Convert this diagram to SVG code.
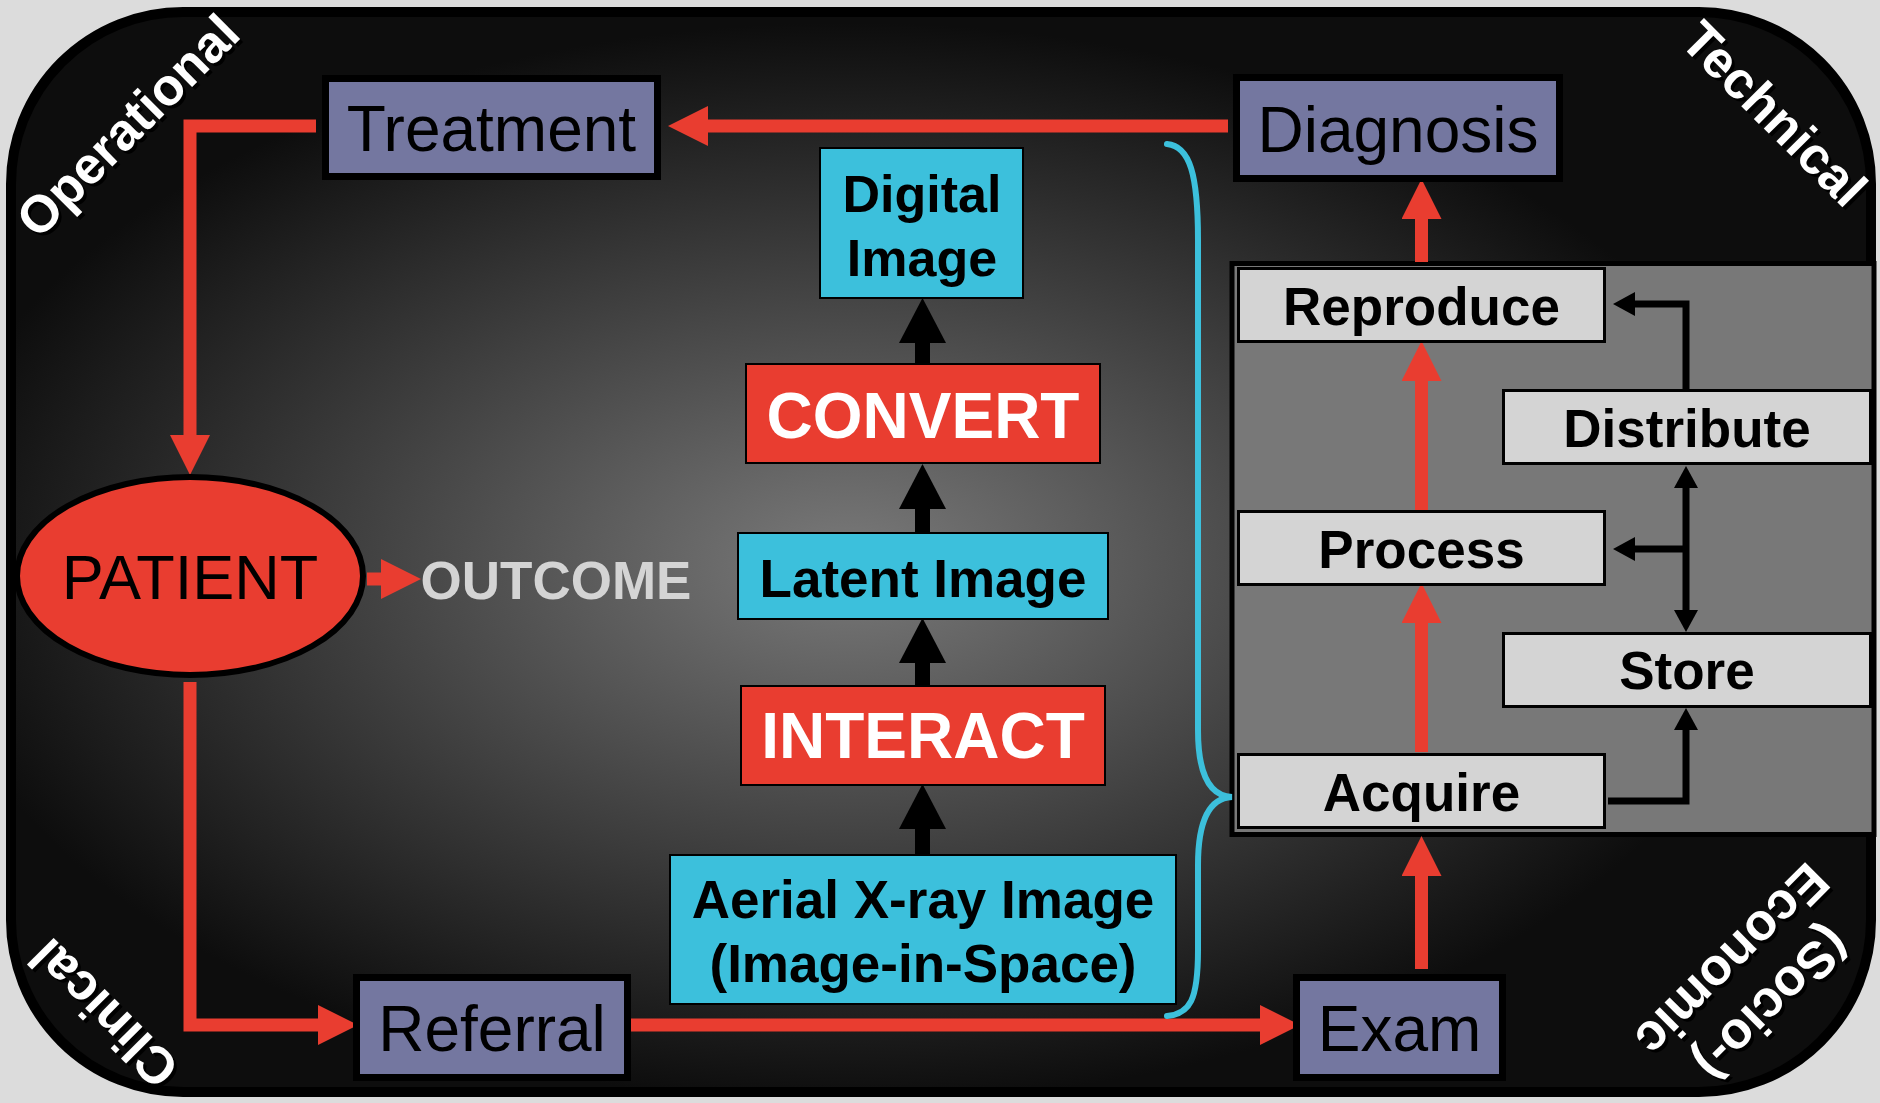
<svg xmlns="http://www.w3.org/2000/svg" width="1880" height="1103" viewBox="0 0 1880 1103">
  <defs>
    <radialGradient id="bgGrad" cx="0.45" cy="0.51" r="0.5">
      <stop offset="0" stop-color="#7a7a7a"/>
      <stop offset="1" stop-color="#0d0d0d"/>
    </radialGradient>
    <marker id="redHead" viewBox="0 0 40 40" refX="0" refY="20" markerWidth="40" markerHeight="40" markerUnits="userSpaceOnUse" orient="auto">
      <path d="M0,0 L40,20 L0,40 Z" fill="#e93d30"/>
    </marker>
    <marker id="blackHead" viewBox="0 0 45 47" refX="0" refY="23.5" markerWidth="45" markerHeight="47" markerUnits="userSpaceOnUse" orient="auto">
      <path d="M0,0 L45,23.5 L0,47 Z" fill="#000"/>
    </marker>
    <marker id="smallHead" viewBox="0 0 22 24" refX="0" refY="12" markerWidth="22" markerHeight="24" markerUnits="userSpaceOnUse" orient="auto-start-reverse">
      <path d="M0,0 L22,12 L0,24 Z" fill="#000"/>
    </marker>
  </defs>
  <style>
    text { font-family: "Liberation Sans", Arial, Helvetica, sans-serif; text-anchor: middle; }
    .flow { fill: none; stroke: #e93d30; stroke-width: 13; marker-end: url(#redHead); }
    .step { fill: none; stroke: #000; stroke-width: 15; marker-end: url(#blackHead); }
    .link { fill: none; stroke: #000; stroke-width: 7; marker-end: url(#smallHead); }
    .brace { fill: none; stroke: #3cc0dc; stroke-width: 6; stroke-linecap: round; }
    .care { fill: #7477a0; stroke: #000; stroke-width: 7; }
    .care-t { font-size: 64px; fill: #000; }
    .chain { fill: #d4d4d4; stroke: #000; stroke-width: 3; }
    .chain-t { font-size: 53px; font-weight: bold; fill: #000; }
    .img { fill: #3cc0dc; stroke: #000; stroke-width: 2; }
    .img-t { font-size: 53px; font-weight: bold; fill: #000; }
    .act { fill: #e93d30; stroke: #000; stroke-width: 2; }
    .act-t { font-size: 64px; font-weight: bold; fill: #fff; }
    .corner { font-size: 52px; font-weight: bold; fill: #fff; }
    .corner-sh { font-size: 52px; font-weight: bold; fill: #000; }
  </style>

  <!-- page and framing panel -->
  <rect x="0" y="0" width="1880" height="1103" fill="#dcdcdc"/>
  <rect id="panel" x="11" y="12" width="1860" height="1080" rx="172" ry="172" fill="url(#bgGrad)" stroke="#000" stroke-width="10"/>

  <!-- corner perspective labels -->
  <g id="label-operational">
    <text class="corner-sh" transform="translate(130,128) rotate(-45)" y="19">Operational</text>
    <text class="corner" transform="translate(127,125) rotate(-45)" y="19">Operational</text>
  </g>
  <g id="label-technical">
    <text class="corner-sh" transform="translate(1778,116) rotate(45)" y="19">Technical</text>
    <text class="corner" transform="translate(1775,113) rotate(45)" y="19">Technical</text>
  </g>
  <g id="label-clinical">
    <text class="corner-sh" transform="translate(106,1017) rotate(-135)" y="19">Clinical</text>
    <text class="corner" transform="translate(103,1014) rotate(-135)" y="19">Clinical</text>
  </g>
  <g id="label-economic">
    <text class="corner-sh" transform="translate(1776,1008) rotate(135)" y="19">(Socio-)</text>
    <text class="corner" transform="translate(1773,1005) rotate(135)" y="19">(Socio-)</text>
    <text class="corner-sh" transform="translate(1736,964) rotate(135)" y="19">Economic</text>
    <text class="corner" transform="translate(1733,961) rotate(135)" y="19">Economic</text>
  </g>

  <!-- imaging chain container -->
  <g id="chain-panel">
    <rect x="1232" y="263.5" width="642" height="571" fill="#787878" stroke="#000" stroke-width="5"/>
  </g>

  <!-- connectors -->
  <g id="connectors">
    <path class="flow" d="M1228,126 L708,126"/>
    <path class="flow" d="M316,126 L190,126 L190,435"/>
    <path class="flow" d="M190,682 L190,1025 L318,1025"/>
    <path class="flow" d="M630,1025 L1260,1025"/>
    <path class="flow" d="M1421.5,969 L1421.5,876"/>
    <path class="flow" d="M1421.5,752 L1421.5,623"/>
    <path class="flow" d="M1421.5,510 L1421.5,381"/>
    <path class="flow" d="M1421.5,262 L1421.5,219"/>
    <path class="flow" d="M367,579 L381,579"/>

    <path class="step" d="M922.5,364 L922.5,343"/>
    <path class="step" d="M922.5,533 L922.5,509"/>
    <path class="step" d="M922.5,686 L922.5,663"/>
    <path class="step" d="M922.5,855 L922.5,829"/>

    <path class="link" d="M1608,801 L1686,801 L1686,730"/>
    <path class="link" d="M1686,488 L1686,610" marker-start="url(#smallHead)"/>
    <path class="link" d="M1686,549 L1635,549"/>
    <path class="link" d="M1686,389 L1686,304 L1635,304"/>

    <path class="brace" d="M1167,144 C1190,146 1198,175 1198,240 L1198,730 C1198,775 1210,796 1232,797 C1210,798 1198,820 1198,865 L1198,950 C1198,1000 1190,1014 1167,1016"/>
  </g>

  <!-- clinical care loop -->
  <g id="treatment">
    <rect class="care" x="325.5" y="78.5" width="332" height="98"/>
    <text class="care-t" x="491.5" y="151">Treatment</text>
  </g>
  <g id="diagnosis">
    <rect class="care" x="1236.5" y="77.5" width="323" height="101"/>
    <text class="care-t" x="1398" y="152">Diagnosis</text>
  </g>
  <g id="referral">
    <rect class="care" x="356.5" y="977.5" width="271" height="100"/>
    <text class="care-t" x="492" y="1051">Referral</text>
  </g>
  <g id="exam">
    <rect class="care" x="1296.5" y="977.5" width="206" height="100"/>
    <text class="care-t" x="1399.5" y="1051">Exam</text>
  </g>
  <g id="patient">
    <ellipse cx="190" cy="576" rx="173" ry="99" fill="#e93d30" stroke="#000" stroke-width="6"/>
    <text x="190" y="599" style="font-size:63px;fill:#000">PATIENT</text>
  </g>
  <g id="outcome">
    <text x="556" y="599" style="font-size:53px;font-weight:bold;fill:#d4d4d4">OUTCOME</text>
  </g>

  <!-- image formation column -->
  <g id="digital-image">
    <rect class="img" x="820" y="148" width="203" height="150"/>
    <text class="img-t" x="922" y="212" style="font-size:52px">Digital</text>
    <text class="img-t" x="922" y="276" style="font-size:52px">Image</text>
  </g>
  <g id="convert">
    <rect class="act" x="746" y="364" width="354" height="99"/>
    <text class="act-t" x="923" y="438">CONVERT</text>
  </g>
  <g id="latent-image">
    <rect class="img" x="738" y="533" width="370" height="86"/>
    <text class="img-t" x="923" y="597">Latent Image</text>
  </g>
  <g id="interact">
    <rect class="act" x="741" y="686" width="364" height="99"/>
    <text class="act-t" x="923" y="758">INTERACT</text>
  </g>
  <g id="aerial-image">
    <rect class="img" x="670" y="855" width="506" height="149"/>
    <text class="img-t" x="923" y="918">Aerial X-ray Image</text>
    <text class="img-t" x="923" y="982">(Image-in-Space)</text>
  </g>

  <!-- imaging chain steps -->
  <g id="reproduce">
    <rect class="chain" x="1238.5" y="268.5" width="366" height="73"/>
    <text class="chain-t" x="1421.5" y="325">Reproduce</text>
  </g>
  <g id="process">
    <rect class="chain" x="1238.5" y="511.5" width="366" height="73"/>
    <text class="chain-t" x="1421.5" y="568">Process</text>
  </g>
  <g id="acquire">
    <rect class="chain" x="1238.5" y="754.5" width="366" height="73"/>
    <text class="chain-t" x="1421.5" y="811">Acquire</text>
  </g>
  <g id="distribute">
    <rect class="chain" x="1503.5" y="390.5" width="367" height="73"/>
    <text class="chain-t" x="1687" y="447">Distribute</text>
  </g>
  <g id="store">
    <rect class="chain" x="1503.5" y="633.5" width="367" height="73"/>
    <text class="chain-t" x="1687" y="689">Store</text>
  </g>
</svg>
